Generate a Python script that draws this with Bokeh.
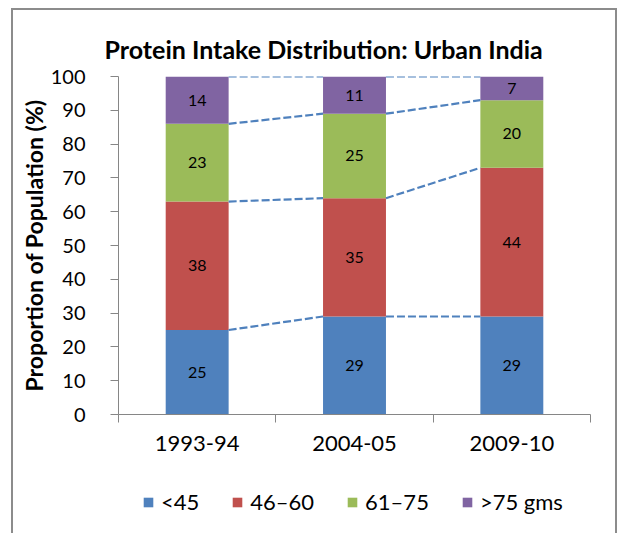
from bokeh.plotting import figure
from bokeh.layouts import column
from bokeh.models import (Range1d, LinearAxis, FixedTicker, CustomJSTickFormatter,
                          Legend, LegendItem, ColumnDataSource)
from bokeh.transform import dodge
from bokeh.core.properties import value
from bokeh.embed import file_html
from bokeh.resources import INLINE

# ---- data ----
years = ["1993-94", "2004-05", "2009-10"]
series_names = ["<45", "46\u201360", "61\u201375", ">75 gms"]
lt45 = [25, 29, 29]
g46_60 = [38, 35, 44]
g61_75 = [23, 25, 20]
gt75 = [14, 11, 7]
y_ticks = [0, 10, 20, 30, 40, 50, 60, 70, 80, 90, 100]
title_text = "Protein Intake Distribution: Urban India"
y_title = "Proportion of Population (%)"

colors = ["#4F81BD", "#C0504D", "#9BBB59", "#8064A2"]
FONT = "Lato"
BAR_W = 0.4
keys = ["s0", "s1", "s2", "s3"]
series = [lt45, g46_60, g61_75, gt75]

n = len(years)
centers = [i + 0.5 for i in range(n)]
bounds = list(range(n + 1))

data = {"x": centers}
for k, s in zip(keys, series):
    data[k] = s
src = ColumnDataSource(data)

p = figure(x_range=Range1d(0, n), y_range=Range1d(0, 100),
           frame_width=472, frame_height=338, output_backend="svg", toolbar_location=None,
           x_axis_location=None, y_axis_location="left",
           min_border_left=105, min_border_right=25, min_border_top=66, min_border_bottom=48,
           background_fill_color="white", border_fill_color="white")
p.outline_line_color = None
p.xgrid.visible = False
p.ygrid.visible = False

# title
p.title.text = title_text
p.title.text_font = FONT
p.title.text_font_style = "bold"
p.title.text_font_size = "25px"
p.title.text_color = "black"
p.title.align = "left"
p.title.offset = -14
p.title.standoff = 26

# stacked bars
rs = p.vbar_stack(keys, x="x", width=BAR_W, color=colors, source=src, line_color=None)

# connector dashed lines between stacks
cum = [0] * n
for s in series:
    cum = [c + v for c, v in zip(cum, s)]
    seg = ColumnDataSource({"x0": centers[:-1], "x1": centers[1:], "y0": cum[:-1], "y1": cum[1:]})
    p.segment(x0=dodge("x0", BAR_W / 2), y0="y0",
              x1=dodge("x1", -BAR_W / 2), y1="y1",
              source=seg, line_color="#4F81BD", line_width=2.2, line_dash="8 3")

# data labels
bottom = [0] * n
for s in series:
    mids = [b + v / 2 for b, v in zip(bottom, s)]
    lab = ColumnDataSource({"x": centers, "y": mids, "t": [str(v) for v in s]})
    p.text(x="x", y="y", text="t", source=lab, text_font=value(FONT), text_font_size="16px",
           text_align="center", text_baseline="middle", text_color="black")
    bottom = [b + v for b, v in zip(bottom, s)]

# y axis
ya = p.yaxis[0]
ya.ticker = FixedTicker(ticks=y_ticks)
ya.minor_tick_line_color = None
ya.major_tick_in = 0
ya.major_tick_out = 8
ya.axis_line_color = "#868686"
ya.major_tick_line_color = "#868686"
ya.major_label_text_font = FONT
ya.major_label_text_font_size = "20px"
ya.major_label_text_color = "black"
ya.major_label_standoff = 25
ya.axis_label = y_title
ya.axis_label_text_font = FONT
ya.axis_label_text_font_style = "bold"
ya.axis_label_text_font_size = "23px"
ya.axis_label_text_color = "black"
ya.axis_label_standoff = 0

# x axis: boundary ticks (no labels)
xt = LinearAxis(ticker=FixedTicker(ticks=bounds), formatter=CustomJSTickFormatter(code="return ''"))
xt.major_tick_in = 0
xt.major_tick_out = 8
xt.minor_tick_line_color = None
xt.axis_line_color = "#868686"
xt.major_tick_line_color = "#868686"
xt.major_label_standoff = 0
p.add_layout(xt, "below")

# x axis: category labels
xc = LinearAxis(ticker=FixedTicker(ticks=centers),
                major_label_overrides={c: y for c, y in zip(centers, years)})
xc.axis_line_color = None
xc.major_tick_line_color = None
xc.minor_tick_line_color = None
xc.major_tick_in = 0
xc.major_tick_out = 0
xc.major_label_text_font = FONT
xc.major_label_text_font_size = "22px"
xc.major_label_text_color = "black"
xc.major_label_standoff = 13
p.add_layout(xc, "below")

# legend strip below the chart (same series, drawn outside this strip's view)
p2 = figure(width=602, height=71, x_range=Range1d(0, n), y_range=Range1d(150, 151),
            output_backend="svg", toolbar_location=None,
            x_axis_location=None, y_axis_location=None, min_border=0,
            background_fill_color="white", border_fill_color="white")
p2.outline_line_color = None
p2.xgrid.visible = False
p2.ygrid.visible = False
swatches = p2.vbar_stack(keys, x="x", width=BAR_W, color=colors, source=src, line_color=None)
items = [LegendItem(label=nm, renderers=[r]) for nm, r in zip(series_names, swatches)]
leg = Legend(items=items, orientation="horizontal", location=(24, 18))
leg.border_line_color = None
leg.background_fill_alpha = 0
leg.label_text_font = FONT
leg.label_text_font_size = "22px"
leg.label_text_color = "black"
leg.glyph_width = 12
leg.glyph_height = 12
leg.label_standoff = 7
leg.spacing = 32
leg.padding = 0
leg.margin = 0
p2.add_layout(leg, "center")

layout = column(p, p2, spacing=0,
                styles={"border-left": "2px solid #8c8c8c", "border-top": "2px solid #8c8c8c",
                        "border-right": "2px solid #8c8c8c",
                        "margin-left": "11px", "margin-top": "8px"})

open("out.html", "w").write(file_html(layout, INLINE))
